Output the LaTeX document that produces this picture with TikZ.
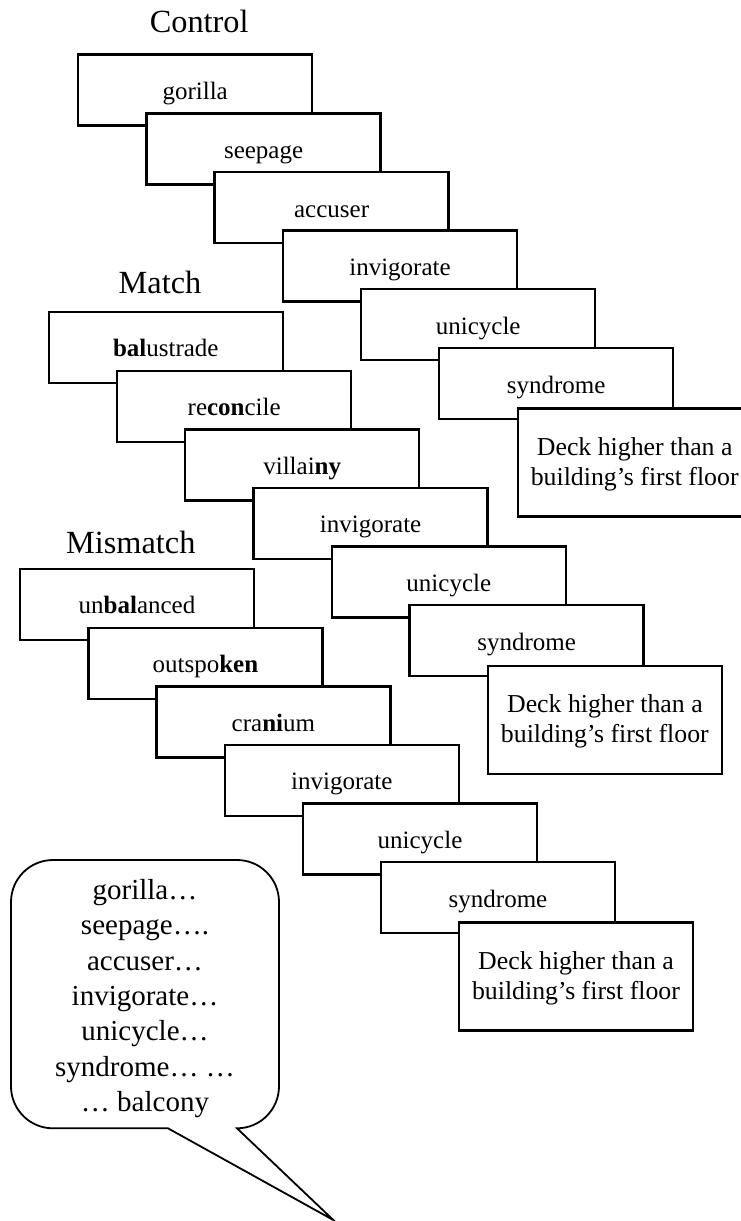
\documentclass[tikz,border=0pt]{standalone}
\usepackage{fontspec}
\setmainfont{Liberation Serif}
\begin{document}
\begin{tikzpicture}[x=1pt,y=-1pt,
  card/.style={draw=black, line width=2.4pt, fill=white, minimum width=234pt, minimum height=71pt, inner sep=0pt, anchor=north west, text height=19pt, text depth=0pt, font=\fontsize{25}{30}\selectfont},
  deckcard/.style={draw=black, line width=2.4pt, fill=white, minimum width=234pt, minimum height=108pt, inner sep=0pt, anchor=north west},
  decktext/.style={anchor=base, inner sep=0pt, font=\fontsize{25.8}{30}\selectfont},
  grouptitle/.style={anchor=base, inner sep=0pt, font=\fontsize{32.3}{38}\selectfont},
  bubbletext/.style={anchor=base, inner sep=0pt, font=\fontsize{29}{35}\selectfont},
  bubble/.style={draw=black, line width=1.8pt, fill=white, line join=miter}
]
\useasboundingbox (0,0) rectangle (741,1221);
\clip (0,0) rectangle (741,1221);

% Control
\node[grouptitle] (tc) at (199.2,32.3) {Control};
\node[card] (c1) at (77,53.3) {gorilla};
\node[card] (c2) at (145.4,112.3) {seepage};
\node[card] (c3) at (213.4,170.8) {accuser};
\node[card] (c4) at (281.8,229.3) {invigorate};
\node[card] (c5) at (360,288) {unicycle};
\node[card] (c6) at (438,346.8) {syndrome};
\node[deckcard] (cd) at (516.5,407.3) {};
\node[decktext] (cdA) at ([yshift=-48pt]cd.north) {Deck higher than a};
\node[decktext] (cdB) at ([yshift=-78pt]cd.north) {building’s first floor};

% Match
\node[grouptitle] (tm) at (160,293.3) {Match};
\node[card] (m1) at (47.6,310.7) {\textbf{bal}ustrade};
\node[card] (m2) at (116,369.7) {re\textbf{con}cile};
\node[card] (m3) at (184,428.2) {villai\textbf{ny}};
\node[card] (m4) at (252.4,486.7) {invigorate};
\node[card] (m5) at (330.6,545.4) {unicycle};
\node[card] (m6) at (408.4,604) {syndrome};
\node[deckcard] (md) at (486.7,664.8) {};
\node[decktext] (mdA) at ([yshift=-48pt]md.north) {Deck higher than a};
\node[decktext] (mdB) at ([yshift=-78pt]md.north) {building’s first floor};

% Mismatch
\node[grouptitle] (tx) at (130.8,553.3) {Mismatch};
\node[card] (x1) at (18.8,567.7) {un\textbf{bal}anced};
\node[card] (x2) at (87.2,626.7) {outspo\textbf{ken}};
\node[card] (x3) at (155.2,685.2) {cra\textbf{ni}um};
\node[card] (x4) at (223.6,743.7) {invigorate};
\node[card] (x5) at (301.8,802.4) {unicycle};
\node[card] (x6) at (379.8,860.9) {syndrome};
\node[deckcard] (xd) at (457.8,921.3) {};
\node[decktext] (xdA) at ([yshift=-48pt]xd.north) {Deck higher than a};
\node[decktext] (xdB) at ([yshift=-78pt]xd.north) {building’s first floor};

% Speech bubble
\coordinate (tip) at (333.3,1220);
\draw[bubble] (168,1128.3) -- (tip) -- (237,1128.3)
  .. controls (260.2,1128.3) and (279,1109.5) .. (279,1086.3)
  -- (279,902)
  .. controls (279,878.8) and (260.2,860) .. (237,860)
  -- (53,860)
  .. controls (29.8,860) and (11,878.8) .. (11,902)
  -- (11,1086.3)
  .. controls (11,1109.5) and (29.8,1128.3) .. (53,1128.3)
  -- cycle;
\node[bubbletext] (b1) at (145,899.3) {gorilla…};
\node[bubbletext] (b2) at (145,934.7) {seepage….};
\node[bubbletext] (b3) at (145,970.1) {accuser…};
\node[bubbletext] (b4) at (145,1005.5) {invigorate…};
\node[bubbletext] (b5) at (145,1040.9) {unicycle…};
\node[bubbletext] (b6) at (145,1076.3) {syndrome… …};
\node[bubbletext] (b7) at (145,1111.7) {… balcony};
\end{tikzpicture}
\end{document}
